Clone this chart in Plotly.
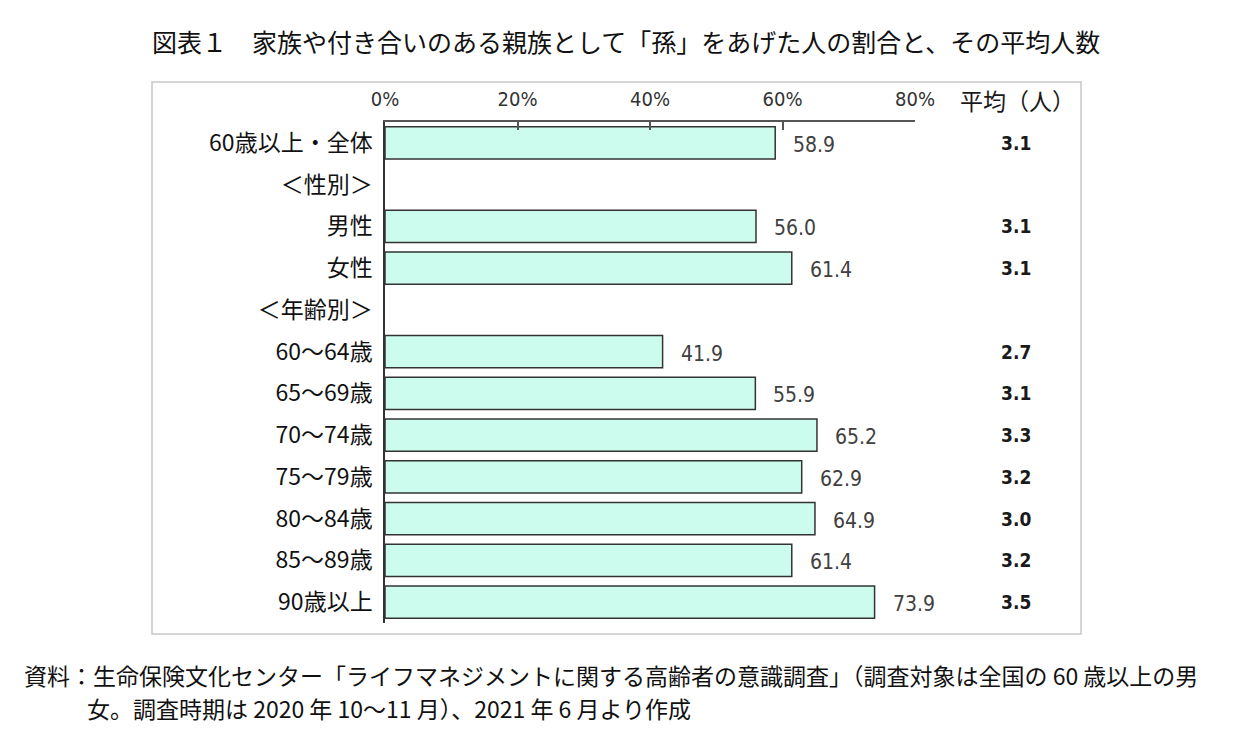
import plotly.graph_objects as go

categories = ["60歳以上・全体", "＜性別＞", "男性", "女性", "＜年齢別＞",
              "60～64歳", "65～69歳", "70～74歳", "75～79歳", "80～84歳", "85～89歳", "90歳以上"]
share_pct = [58.9, None, 56.0, 61.4, None, 41.9, 55.9, 65.2, 62.9, 64.9, 61.4, 73.9]
avg_people = ["3.1", "", "3.1", "3.1", "", "2.7", "3.1", "3.3", "3.2", "3.0", "3.2", "3.5"]
x_ticks = [0, 20, 40, 60, 80]
x_tick_labels = ["0%", "20%", "40%", "60%", "80%"]

title_text = "図表１　家族や付き合いのある親族として「孫」をあげた人の割合と、その平均人数"
source_line1 = "資料：生命保険文化センター「ライフマネジメントに関する高齢者の意識調査」（調査対象は全国の 60 歳以上の男"
source_line2 = "女。調査時期は 2020 年 10～11 月）、2021 年 6 月より作成"
avg_header = "平均（人）"

JP = "Noto Sans CJK JP, Noto Sans, sans-serif"
NUM = "Liberation Sans Narrow, DejaVu Sans Condensed, Liberation Sans, sans-serif"

# plot area pixel geometry
L, R, T, B = 385, 915, 122, 623
W, H = 1233, 734
pw, ph = R - L, B - T

def px_x(p):
    return (p - L) / pw

def px_y(p):
    return (B - p) / ph

fig = go.Figure()
fig.add_trace(go.Bar(
    x=share_pct, y=categories, orientation="h",
    marker=dict(color="#ccfcee", line=dict(color="#333333", width=1.5)),
    width=0.77, hoverinfo="skip"))

annotations = []
for c, v, a in zip(categories, share_pct, avg_people):
    if v is not None:
        annotations.append(dict(x=v, y=c, xref="x", yref="y", text=f"{v:.1f}",
                                showarrow=False, xanchor="left", xshift=16, yshift=-2,
                                font=dict(family=NUM, size=21, color="#404040")))
    if a:
        annotations.append(dict(x=px_x(1016), y=c, xref="paper", yref="y", text=f"<b>{a}</b>",
                                showarrow=False, xanchor="center",
                                font=dict(family=NUM, size=19, color="#1a1a1a")))

annotations.append(dict(x=px_x(1017), y=px_y(100), xref="paper", yref="paper", text=avg_header,
                        showarrow=False, xanchor="center", yanchor="middle",
                        font=dict(family=JP, size=23, color="#1a1a1a")))
annotations.append(dict(x=px_x(626), y=px_y(41), xref="paper", yref="paper", text=title_text,
                        showarrow=False, xanchor="center", yanchor="middle",
                        font=dict(family=JP, size=25, color="#111111")))
annotations.append(dict(x=px_x(22), y=px_y(675), xref="paper", yref="paper", text=source_line1,
                        showarrow=False, xanchor="left", yanchor="middle",
                        font=dict(family=JP, size=23, color="#111111")))
annotations.append(dict(x=px_x(85), y=px_y(708), xref="paper", yref="paper", text=source_line2,
                        showarrow=False, xanchor="left", yanchor="middle",
                        font=dict(family=JP, size=23, color="#111111")))

fig.update_layout(
    width=W, height=H,
    margin=dict(l=L, r=W - R, t=T, b=H - B, pad=0),
    paper_bgcolor="white", plot_bgcolor="white",
    showlegend=False,
    annotations=annotations,
    shapes=[dict(type="rect", xref="paper", yref="paper",
                 x0=px_x(152), x1=px_x(1081), y0=px_y(634), y1=px_y(82),
                 line=dict(color="#c8c8c8", width=1.5), fillcolor="rgba(0,0,0,0)", layer="below")],
    xaxis=dict(range=[0, 80], side="top", tickmode="array", tickvals=x_ticks, ticktext=x_tick_labels,
               showgrid=False, zeroline=False, showline=True, linecolor="#555555", linewidth=1.5,
               ticks="inside", ticklen=8, tickcolor="#555555", tickwidth=1.5,
               ticklabelstandoff=6,
               tickfont=dict(family=NUM, size=20, color="#333333"), fixedrange=True),
    yaxis=dict(type="category", categoryorder="array", categoryarray=categories,
               autorange="reversed", showgrid=False, zeroline=False,
               showline=True, linecolor="#333333", linewidth=1.5, ticks="",
               ticklabelstandoff=6,
               tickfont=dict(family=JP, size=23, color="#111111"), fixedrange=True),
    bargap=0.23,
)

fig.write_html("out.html")
